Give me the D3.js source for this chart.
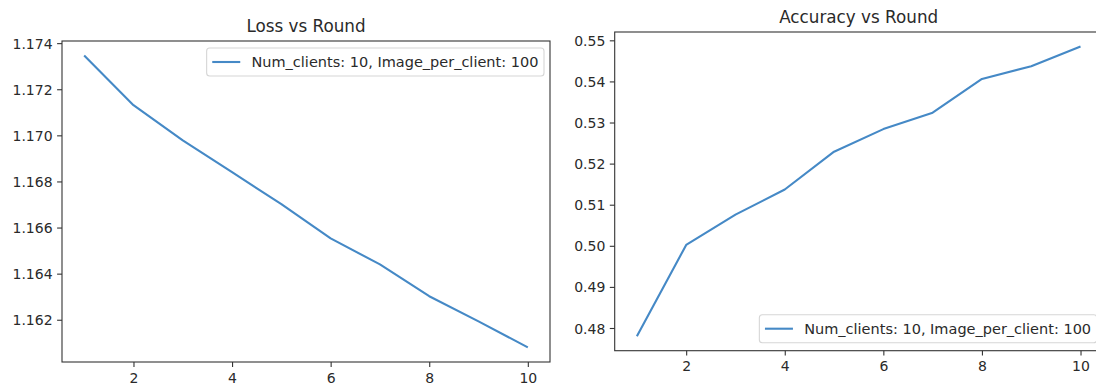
<!DOCTYPE html>
<html>
<head>
<meta charset="utf-8">
<script src="https://cdn.jsdelivr.net/npm/d3@7"></script>
<style>
  html, body { margin: 0; padding: 0; background: #fff; }
  svg { display: block; }
  text { font-family: "DejaVu Sans", sans-serif; fill: #2a2a2a; }
</style>
</head>
<body>
<svg id="chart" width="1096" height="383"></svg>
<script>
// ---- data ----
const rounds = [1, 2, 3, 4, 5, 6, 7, 8, 9, 10];
const lossValues = [1.17346, 1.17131, 1.16978, 1.16840, 1.16702, 1.16553, 1.16440, 1.16302, 1.16193, 1.16080];
const accuracyValues = [0.4780, 0.5002, 0.5076, 0.5137, 0.5229, 0.5284, 0.5324, 0.5406, 0.5437, 0.5485];
const xTicks = [2, 4, 6, 8, 10];
const lossTicks = [1.162, 1.164, 1.166, 1.168, 1.170, 1.172, 1.174];
const accuracyTicks = [0.48, 0.49, 0.50, 0.51, 0.52, 0.53, 0.54, 0.55];
const seriesLabel = "Num_clients: 10, Image_per_client: 100";
const titles = ["Loss vs Round", "Accuracy vs Round"];

const svg = d3.select("#chart");
const lineColor = "#4589c6";
const fs = 14;

function panel(cfg) {
  const { x0, x1, y0, y1, values, ticks, fmt, title, legendPos } = cfg;
  const g = svg.append("g");

  const xExt = d3.extent(rounds), xPad = (xExt[1] - xExt[0]) * 0.05;
  const yExt = d3.extent(values), yPad = (yExt[1] - yExt[0]) * 0.05;
  const x = d3.scaleLinear().domain([xExt[0] - xPad, xExt[1] + xPad]).range([x0, x1]);
  const y = d3.scaleLinear().domain([yExt[0] - yPad, yExt[1] + yPad]).range([y1, y0]);

  // axes
  const xa = g.append("g").attr("transform", `translate(0,${y1})`)
    .call(d3.axisBottom(x).tickValues(xTicks).tickFormat(d3.format("d")).tickSize(4.9).tickSizeOuter(0).tickPadding(4.5));
  const ya = g.append("g").attr("transform", `translate(${x0},0)`)
    .call(d3.axisLeft(y).tickValues(ticks).tickFormat(d3.format(fmt)).tickSize(4.9).tickSizeOuter(0).tickPadding(4.5));
  [xa, ya].forEach(a => {
    a.select(".domain").remove();
    a.selectAll(".tick line").attr("stroke", "#333").attr("stroke-width", 1.1);
    a.selectAll(".tick text").attr("font-size", fs).attr("font-family", "DejaVu Sans").attr("fill", "#2a2a2a");
  });
  xa.selectAll(".tick text").attr("dy", null).attr("y", 20.5).attr("dominant-baseline", "auto");
  ya.selectAll(".tick text").attr("dy", "0.36em");

  // line
  g.append("path")
    .datum(rounds.map((r, i) => [r, values[i]]))
    .attr("fill", "none")
    .attr("stroke", lineColor)
    .attr("stroke-width", 2.1)
    .attr("stroke-linejoin", "round")
    .attr("stroke-linecap", "butt")
    .attr("d", d3.line().x(d => x(d[0])).y(d => y(d[1])));

  // frame
  g.append("rect")
    .attr("x", x0).attr("y", y0).attr("width", x1 - x0).attr("height", y1 - y0)
    .attr("fill", "none").attr("stroke", "#333").attr("stroke-width", 1.1);

  // title
  g.append("text")
    .attr("x", (x0 + x1) / 2).attr("y", y0 - 8.6)
    .attr("text-anchor", "middle").attr("font-size", 16.8)
    .text(title);

  // legend
  const lg = g.append("g");
  const txt = lg.append("text").attr("font-size", 14.5).text(seriesLabel);
  const tw = txt.node().getComputedTextLength();
  const pad = 5.6, hl = 28, htp = 11.2, h = 28;
  const w = pad + hl + htp + tw + pad;
  const bx = x1 - 6 - w;
  const by = legendPos === "upper" ? y0 + 7 : y1 - 8 - h;
  lg.insert("rect", "text")
    .attr("x", bx).attr("y", by).attr("width", w).attr("height", h)
    .attr("rx", 3).attr("fill", "rgba(255,255,255,0.8)")
    .attr("stroke", "#d6d6d6").attr("stroke-width", 1.1);
  lg.append("line")
    .attr("x1", bx + pad).attr("x2", bx + pad + hl)
    .attr("y1", by + h / 2).attr("y2", by + h / 2)
    .attr("stroke", lineColor).attr("stroke-width", 2.1);
  txt.attr("x", bx + pad + hl + htp).attr("y", by + h / 2).attr("dy", "0.36em");
}

panel({ x0: 62, x1: 550, y0: 41, y1: 362, values: lossValues, ticks: lossTicks, fmt: ".3f", title: titles[0], legendPos: "upper" });
panel({ x0: 614.7, x1: 1102.7, y0: 32, y1: 350.7, values: accuracyValues, ticks: accuracyTicks, fmt: ".2f", title: titles[1], legendPos: "lower" });
</script>
</body>
</html>
